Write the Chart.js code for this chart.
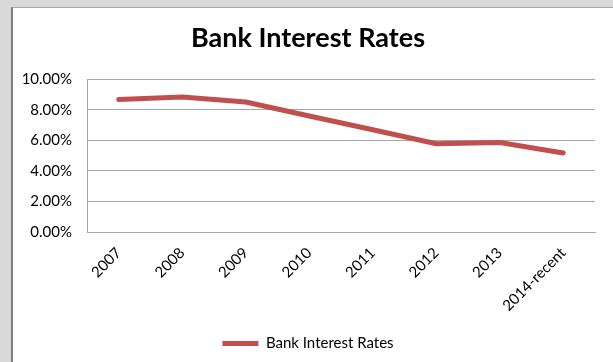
<!DOCTYPE html>
<html>
<head>
<meta charset="utf-8">
<script src="https://cdn.jsdelivr.net/npm/chart.js@4/dist/chart.umd.min.js"></script>
<style>
  body { margin: 0; background: #d9d9d9; width: 613px; height: 362px; overflow: hidden; }
  #panel {
    position: absolute; left: 11px; top: 7px; width: 602px; height: 355px;
    background: #fff; border-left: 2px solid #7f7f7f; border-top: 1px solid #a6a6a6;
  }
  #myChart { position: absolute; left: 0; top: 0; }
</style>
</head>
<body>
<div id="panel"><canvas id="myChart" width="600" height="354"></canvas></div>
<script>
const categories = ['2007', '2008', '2009', '2010', '2011', '2012', '2013', '2014-recent']
const rates = [8.68, 8.84, 8.52, 7.6, 6.7, 5.78, 5.86, 5.18]
const yTicks = [0, 2, 4, 6, 8, 10]

const font = 'Lato, "Open Sans", sans-serif'
const ctx = document.getElementById('myChart').getContext('2d')

new Chart(ctx, {
  type: 'line',
  data: {
    labels: categories,
    datasets: [
      {
        label: 'Bank Interest Rates',
        data: rates,
        borderColor: '#c0504d',
        backgroundColor: '#c0504d',
        borderWidth: 5,
        borderCapStyle: 'round',
        borderJoinStyle: 'round',
        pointRadius: 0,
        tension: 0,
      },
    ],
  },
  options: {
    responsive: false,
    animation: false,
    layout: { padding: { left: 8, right: 18, top: 0, bottom: 1 } },
    plugins: {
      title: {
        display: true,
        text: 'Bank Interest Rates',
        color: '#000',
        font: { family: font, size: 27, weight: 'bold' },
        padding: { top: 14, bottom: 25 },
      },
      legend: {
        position: 'bottom',
        labels: {
          color: '#000',
          font: { family: font, size: 15 },
          usePointStyle: true,
          pointStyle: 'line',
          pointStyleWidth: 36,
          padding: 8,
        },
      },
      tooltip: { enabled: false },
    },
    scales: {
      x: {
        offset: true,
        grid: { display: false, drawTicks: false },
        border: { display: true, color: '#a6a6a6' },
        ticks: {
          color: '#000',
          font: { family: font, size: 15 },
          minRotation: 45,
          maxRotation: 45,
          autoSkip: false,
          padding: 12,
        },
        afterFit: (s) => { s.height = 96 },
      },
      y: {
        min: 0,
        max: 10,
        afterBuildTicks: (s) => { s.ticks = yTicks.map((v) => ({ value: v })) },
        grid: { color: '#a6a6a6', drawTicks: false },
        border: { display: true, color: '#a6a6a6' },
        ticks: {
          color: '#000',
          font: { family: font, size: 15 },
          padding: 15,
          callback: (v) => v.toFixed(2) + '%',
        },
        afterFit: (s) => { s.width = 66 },
      },
    },
  },
})
</script>
</body>
</html>
